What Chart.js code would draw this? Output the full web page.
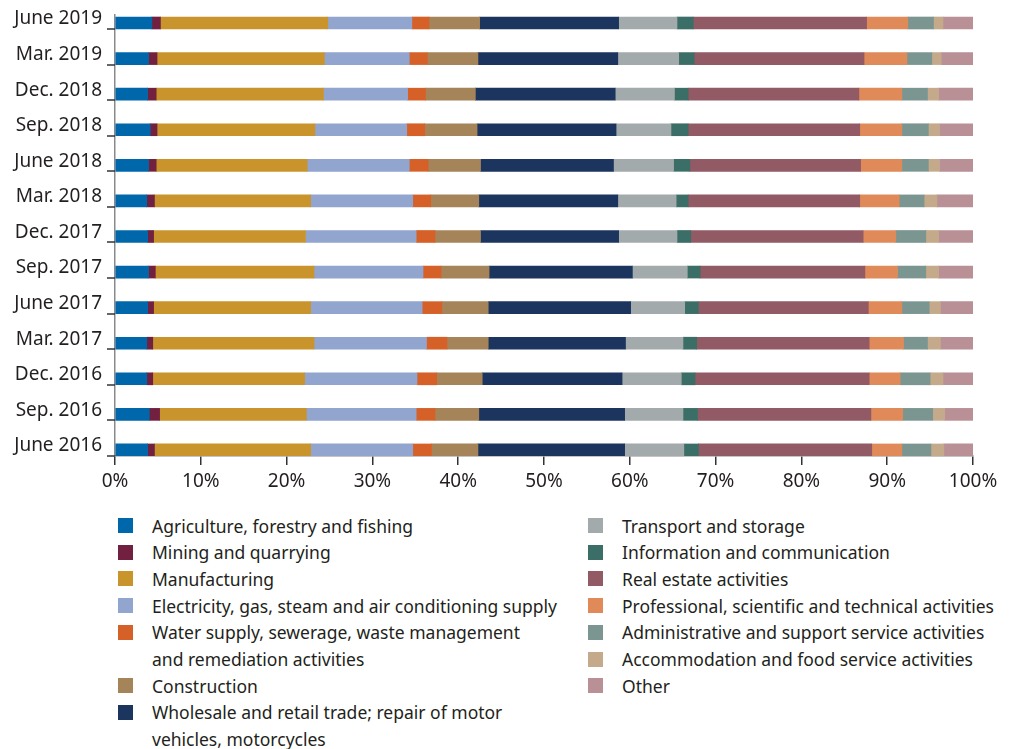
<!DOCTYPE html>
<html>
<head>
<meta charset="utf-8">
<script src="https://cdn.jsdelivr.net/npm/chart.js@4/dist/chart.umd.min.js"></script>
<style>
  html, body { margin: 0; padding: 0; background: #fff; }
  body { width: 1010px; height: 749px; position: relative; overflow: hidden;
         font-family: "Noto Sans", sans-serif; color: #231f20; }
  #wrap { position: absolute; left: 0; top: 0; width: 1010px; height: 500px; }
  .col { position: absolute; top: 512.5px; font-size: 17.5px; line-height: 26.7px; }
  .item { display: flex; align-items: flex-start; }
  .sw { flex: none; width: 15px; height: 15px; margin-top: 5.5px; margin-right: 19px; }
</style>
</head>
<body>
<div id="wrap"><canvas id="chart"></canvas></div>
<div class="col" id="legLeft" style="left:118px"></div>
<div class="col" id="legRight" style="left:588px"></div>
<script>
  // periods, top to bottom
  var periods = ['June 2019', 'Mar. 2019', 'Dec. 2018', 'Sep. 2018', 'June 2018', 'Mar. 2018',
    'Dec. 2017', 'Sep. 2017', 'June 2017', 'Mar. 2017', 'Dec. 2016', 'Sep. 2016', 'June 2016'];

  // share of each sector, %
  var agriculture    = [4.3, 3.9, 3.8, 4.1, 3.9, 3.7, 3.8, 3.9, 3.8, 3.7, 3.7, 4.0, 3.8];
  var mining         = [1.0, 1.0, 1.0, 0.8, 0.9, 0.9, 0.7, 0.8, 0.7, 0.7, 0.7, 1.2, 0.8];
  var manufacturing  = [19.5, 19.5, 19.5, 18.4, 17.6, 18.2, 17.7, 18.5, 18.3, 18.8, 17.7, 17.1, 18.2];
  var electricity    = [9.8, 9.9, 9.8, 10.7, 11.9, 11.9, 12.9, 12.7, 13.0, 13.1, 13.1, 12.8, 11.9];
  var water          = [2.0, 2.1, 2.1, 2.1, 2.2, 2.1, 2.2, 2.1, 2.3, 2.4, 2.3, 2.2, 2.2];
  var construction   = [5.9, 5.9, 5.8, 6.1, 6.1, 5.6, 5.3, 5.6, 5.4, 4.8, 5.3, 5.1, 5.4];
  var wholesale      = [16.2, 16.3, 16.3, 16.2, 15.5, 16.2, 16.1, 16.7, 16.6, 16.0, 16.3, 17.0, 17.1];
  var transport      = [6.8, 7.1, 6.9, 6.4, 7.0, 6.8, 6.8, 6.4, 6.3, 6.7, 6.9, 6.8, 6.9];
  var information    = [1.9, 1.8, 1.6, 2.0, 1.9, 1.4, 1.6, 1.5, 1.6, 1.6, 1.6, 1.7, 1.7];
  var realEstate     = [20.2, 19.8, 19.9, 20.0, 19.9, 20.0, 20.1, 19.2, 19.8, 20.1, 20.3, 20.2, 20.2];
  var professional   = [4.8, 5.0, 5.0, 4.9, 4.8, 4.6, 3.8, 3.8, 3.9, 4.0, 3.6, 3.7, 3.5];
  var administrative = [3.0, 2.9, 3.0, 3.1, 3.1, 2.9, 3.5, 3.3, 3.2, 2.8, 3.5, 3.5, 3.4];
  var accommodation  = [1.1, 1.1, 1.3, 1.3, 1.3, 1.5, 1.5, 1.5, 1.3, 1.5, 1.5, 1.4, 1.5];
  var other          = [3.7, 3.7, 4.0, 3.9, 4.0, 4.3, 4.1, 4.1, 4.0, 4.1, 3.6, 3.4, 3.6];

  var xTicks = [0, 10, 20, 30, 40, 50, 60, 70, 80, 90, 100];

  var series = [
    { name: 'Agriculture, forestry and fishing', data: agriculture, color: '#0067ab' },
    { name: 'Mining and quarrying', data: mining, color: '#72203f' },
    { name: 'Manufacturing', data: manufacturing, color: '#c9942c' },
    { name: 'Electricity, gas, steam and air conditioning supply', data: electricity, color: '#91a5cf' },
    { name: 'Water supply, sewerage, waste management<br>and remediation activities', data: water, color: '#d56128' },
    { name: 'Construction', data: construction, color: '#a6845a' },
    { name: 'Wholesale and retail trade; repair of motor<br>vehicles, motorcycles', data: wholesale, color: '#1b355e' },
    { name: 'Transport and storage', data: transport, color: '#a3aaac' },
    { name: 'Information and communication', data: information, color: '#3b6e66' },
    { name: 'Real estate activities', data: realEstate, color: '#915a64' },
    { name: 'Professional, scientific and technical activities', data: professional, color: '#e08a59' },
    { name: 'Administrative and support service activities', data: administrative, color: '#7b9691' },
    { name: 'Accommodation and food service activities', data: accommodation, color: '#c4aa8b' },
    { name: 'Other', data: other, color: '#b89096' }
  ];

  var BAR = 12;
  var textColor = '#231f20';

  var datasets = series.map(function (s) {
    return {
      label: s.name.replace('<br>', ' '),
      data: s.data.map(function (v, i) { return { x: v, y: i }; }),
      backgroundColor: s.color,
      borderWidth: 0,
      barThickness: BAR
    };
  });

  // little tick marks on the y axis, at the lower edge of each bar
  var yTickMarks = {
    id: 'yTickMarks',
    afterDraw: function (chart) {
      var y = chart.scales.y, ctx = chart.ctx;
      ctx.save();
      ctx.strokeStyle = '#333';
      ctx.lineWidth = 1.5;
      periods.forEach(function (p, i) {
        var py = Math.round(y.getPixelForValue(i) + BAR / 2);
        ctx.beginPath();
        ctx.moveTo(y.right - 8, py);
        ctx.lineTo(y.right, py);
        ctx.stroke();
      });
      ctx.restore();
    }
  };

  new Chart(document.getElementById('chart'), {
    type: 'bar',
    data: { datasets: datasets },
    plugins: [yTickMarks],
    options: {
      indexAxis: 'y',
      responsive: true,
      maintainAspectRatio: false,
      animation: false,
      layout: { padding: { left: 0, right: 37, top: 15, bottom: 0 } },
      plugins: { legend: { display: false }, tooltip: { enabled: false } },
      scales: {
        x: {
          type: 'linear',
          stacked: true,
          min: 0,
          max: 100,
          afterBuildTicks: function (s) { s.ticks = xTicks.map(function (v) { return { value: v }; }); },
          afterFit: function (s) { s.height = 44; },
          grid: { drawOnChartArea: false, drawTicks: true, tickLength: 9, color: '#333', lineWidth: 1.5 },
          border: { color: '#8a8a8a', width: 1.5 },
          ticks: {
            padding: 5,
            color: textColor,
            font: { family: 'Noto Sans', size: 19 },
            callback: function (v) { return v + '%'; }
          }
        },
        y: {
          type: 'linear',
          stacked: true,
          reverse: true,
          offset: false,
          min: -0.225,
          max: 12.17,
          afterBuildTicks: function (s) { s.ticks = periods.map(function (p, i) { return { value: i }; }); },
          afterFit: function (s) { s.width = 115; },
          // tick marks are drawn by the plugin; the hidden ones only push the labels left
          grid: { display: true, drawOnChartArea: false, drawTicks: true, tickLength: 13, color: 'rgba(0,0,0,0)' },
          border: { color: '#8a8a8a', width: 1.5 },
          ticks: {
            padding: 0,
            labelOffset: -4,
            color: textColor,
            font: { family: 'Noto Sans', size: 19 },
            callback: function (v) { return periods[v]; }
          }
        }
      }
    }
  });

  // legend in two columns
  function legendItem(s) {
    return '<div class="item"><span class="sw" style="background:' + s.color + '"></span><span>' + s.name + '</span></div>';
  }
  document.getElementById('legLeft').innerHTML = series.slice(0, 7).map(legendItem).join('');
  document.getElementById('legRight').innerHTML = series.slice(7).map(legendItem).join('');
</script>
</body>
</html>
